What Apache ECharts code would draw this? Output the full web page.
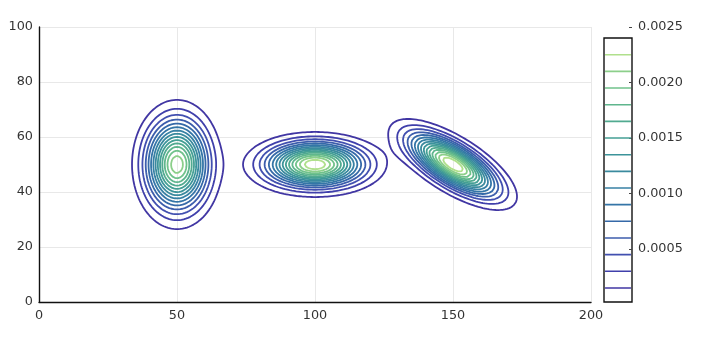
<!DOCTYPE html>
<html>
<head>
<meta charset="utf-8">
<script src="https://cdn.jsdelivr.net/npm/echarts@6/dist/echarts.min.js"></script>
<style>html,body{margin:0;padding:0;background:#fff}#c{width:705px;height:342px}</style>
</head>
<body>
<div id="c"></div>
<script>
// ---- data ----
const xTicks = [0, 50, 100, 150, 200];
const yTicks = [0, 20, 40, 60, 80, 100];
const cbTicks = [0.0005, 0.0010, 0.0015, 0.0020, 0.0025];
// three Gaussian bumps
const peakX = [50, 100, 150];
const peakY = [50, 50, 50];
const peakHeight = [0.0022, 0.00238, 0.0024];
const sigmaX = [7.03, 11.0, 9.85];
const sigmaY = [10.14, 5.03, 7.03];
const corr = [0, 0, -0.705];
// contour levels (as in the colour bar)
const levels = [0.00015, 0.0003, 0.00045, 0.0006, 0.00075, 0.0009, 0.00105, 0.0012,
                0.00135, 0.0015, 0.00165, 0.0018, 0.00195, 0.0021, 0.00225];
const colorMax = 0.0024;

// ---- style ----
const levelColors = ['#4136a3', '#4040ab', '#4250b0', '#3c5dac', '#3569a8', '#3475a7',
  '#3781a4', '#3a8a9e', '#3c949a', '#449f94', '#51aa90', '#5fb68d', '#70c28b', '#8ccf8a', '#b0e08c'];

function field(x, y) {
  let s = 0;
  for (let g = 0; g < peakX.length; g++) {
    const dx = (x - peakX[g]) / sigmaX[g], dy = (y - peakY[g]) / sigmaY[g], r = corr[g];
    const q = (dx * dx - 2 * r * dx * dy + dy * dy) / (1 - r * r);
    s += peakHeight[g] * Math.exp(-0.5 * q);
  }
  return s;
}

// grid sampling for marching squares
const step = 0.4;
const nx = Math.round(200 / step) + 1, ny = Math.round(100 / step) + 1;
const V = new Float64Array(nx * ny);
for (let j = 0; j < ny; j++) for (let i = 0; i < nx; i++) V[j * nx + i] = field(i * step, j * step);

function contourLoops(L) {
  const NH = nx * ny;
  const pts = new Map();
  const adj = new Map();
  function edgePoint(id) {
    if (pts.has(id)) return pts.get(id);
    let p;
    if (id < NH) {
      const j = Math.floor(id / nx), i = id % nx;
      const a = V[j * nx + i], b = V[j * nx + i + 1];
      const t = (L - a) / (b - a);
      p = [(i + t) * step, j * step];
    } else {
      const k = id - NH, j = Math.floor(k / nx), i = k % nx;
      const a = V[j * nx + i], b = V[(j + 1) * nx + i];
      const t = (L - a) / (b - a);
      p = [i * step, (j + t) * step];
    }
    pts.set(id, p);
    return p;
  }
  function link(a, b) {
    if (!adj.has(a)) adj.set(a, []);
    if (!adj.has(b)) adj.set(b, []);
    adj.get(a).push(b); adj.get(b).push(a);
  }
  for (let j = 0; j < ny - 1; j++) {
    for (let i = 0; i < nx - 1; i++) {
      const v00 = V[j * nx + i] >= L, v10 = V[j * nx + i + 1] >= L,
            v01 = V[(j + 1) * nx + i] >= L, v11 = V[(j + 1) * nx + i + 1] >= L;
      if (v00 === v10 && v10 === v01 && v01 === v11) continue;
      const e = [];
      if (v00 !== v10) e.push(j * nx + i);
      if (v10 !== v11) e.push(NH + j * nx + i + 1);
      if (v01 !== v11) e.push((j + 1) * nx + i);
      if (v00 !== v01) e.push(NH + j * nx + i);
      if (e.length === 2) link(e[0], e[1]);
      else if (e.length === 4) { link(e[0], e[1]); link(e[2], e[3]); }
    }
  }
  const visited = new Set();
  const loops = [];
  for (const start of adj.keys()) {
    if (visited.has(start)) continue;
    const line = [];
    let prev = -1, cur = start;
    while (cur !== undefined && !visited.has(cur)) {
      visited.add(cur);
      line.push(edgePoint(cur));
      const nb = adj.get(cur);
      let nxt;
      for (const n of nb) if (n !== prev && !visited.has(n)) { nxt = n; break; }
      prev = cur; cur = nxt;
    }
    if (adj.get(start).length === 2 && adj.get(prev) && adj.get(prev).includes(start)) line.push(edgePoint(start));
    loops.push(line);
  }
  return loops;
}

const series = [];
levels.forEach((L, k) => {
  contourLoops(L).forEach(loop => {
    series.push({
      type: 'line', xAxisIndex: 0, yAxisIndex: 0, data: loop,
      showSymbol: false, symbol: 'none', silent: true, animation: false,
      lineStyle: { color: levelColors[k], width: 1.8, cap: 'round', join: 'round' },
      z: 3
    });
  });
  series.push({
    type: 'line', xAxisIndex: 2, yAxisIndex: 2, data: [[0, L], [1, L]],
    showSymbol: false, symbol: 'none', silent: true, animation: false,
    lineStyle: { color: levelColors[k], width: 1.6 }, z: 3
  });
});

const labelFont = { fontFamily: 'DejaVu Sans', fontSize: 12.8, color: '#333' };
const chart = echarts.init(document.getElementById('c'), null, { renderer: 'canvas' });
chart.setOption({
  animation: false,
  grid: [
    { left: 39, right: 114, top: 27, bottom: 40 },
    { left: 604, right: 73, top: 38, bottom: 40, show: true, borderColor: '#111', borderWidth: 1.4, backgroundColor: 'transparent' },
    { left: 604, right: 73, top: 27, bottom: 37.4 }
  ],
  xAxis: [
    { type: 'value', gridIndex: 0, min: xTicks[0], max: xTicks[xTicks.length - 1], interval: 50,
      axisLine: { show: true, onZero: false, lineStyle: { color: '#111', width: 1.4 } },
      axisTick: { show: false },
      axisLabel: Object.assign({ margin: 7 }, labelFont),
      splitLine: { show: true, lineStyle: { color: '#e8e8e8', width: 1 } } },
    { type: 'value', gridIndex: 1, min: 0, max: 1, show: false },
    { type: 'value', gridIndex: 2, min: -0.04, max: 1.04, show: false }
  ],
  yAxis: [
    { type: 'value', gridIndex: 0, min: yTicks[0], max: yTicks[yTicks.length - 1], interval: 20,
      axisLine: { show: true, onZero: false, lineStyle: { color: '#111', width: 1.4 } },
      axisTick: { show: false },
      axisLabel: Object.assign({ margin: 6 }, labelFont),
      splitLine: { show: true, lineStyle: { color: '#e8e8e8', width: 1 } } },
    { type: 'value', gridIndex: 1, min: 0, max: colorMax, show: false },
    { type: 'value', gridIndex: 2, min: 0, max: cbTicks[cbTicks.length - 1], interval: 0.0005, position: 'right',
      axisLine: { show: false, onZero: false },
      axisTick: { show: true, inside: true, length: 3, lineStyle: { color: '#444' } },
      axisLabel: Object.assign({ margin: 6, showMinLabel: false, formatter: v => v.toFixed(4) }, labelFont),
      splitLine: { show: false } }
  ],
  series: series
});
</script>
</body>
</html>
